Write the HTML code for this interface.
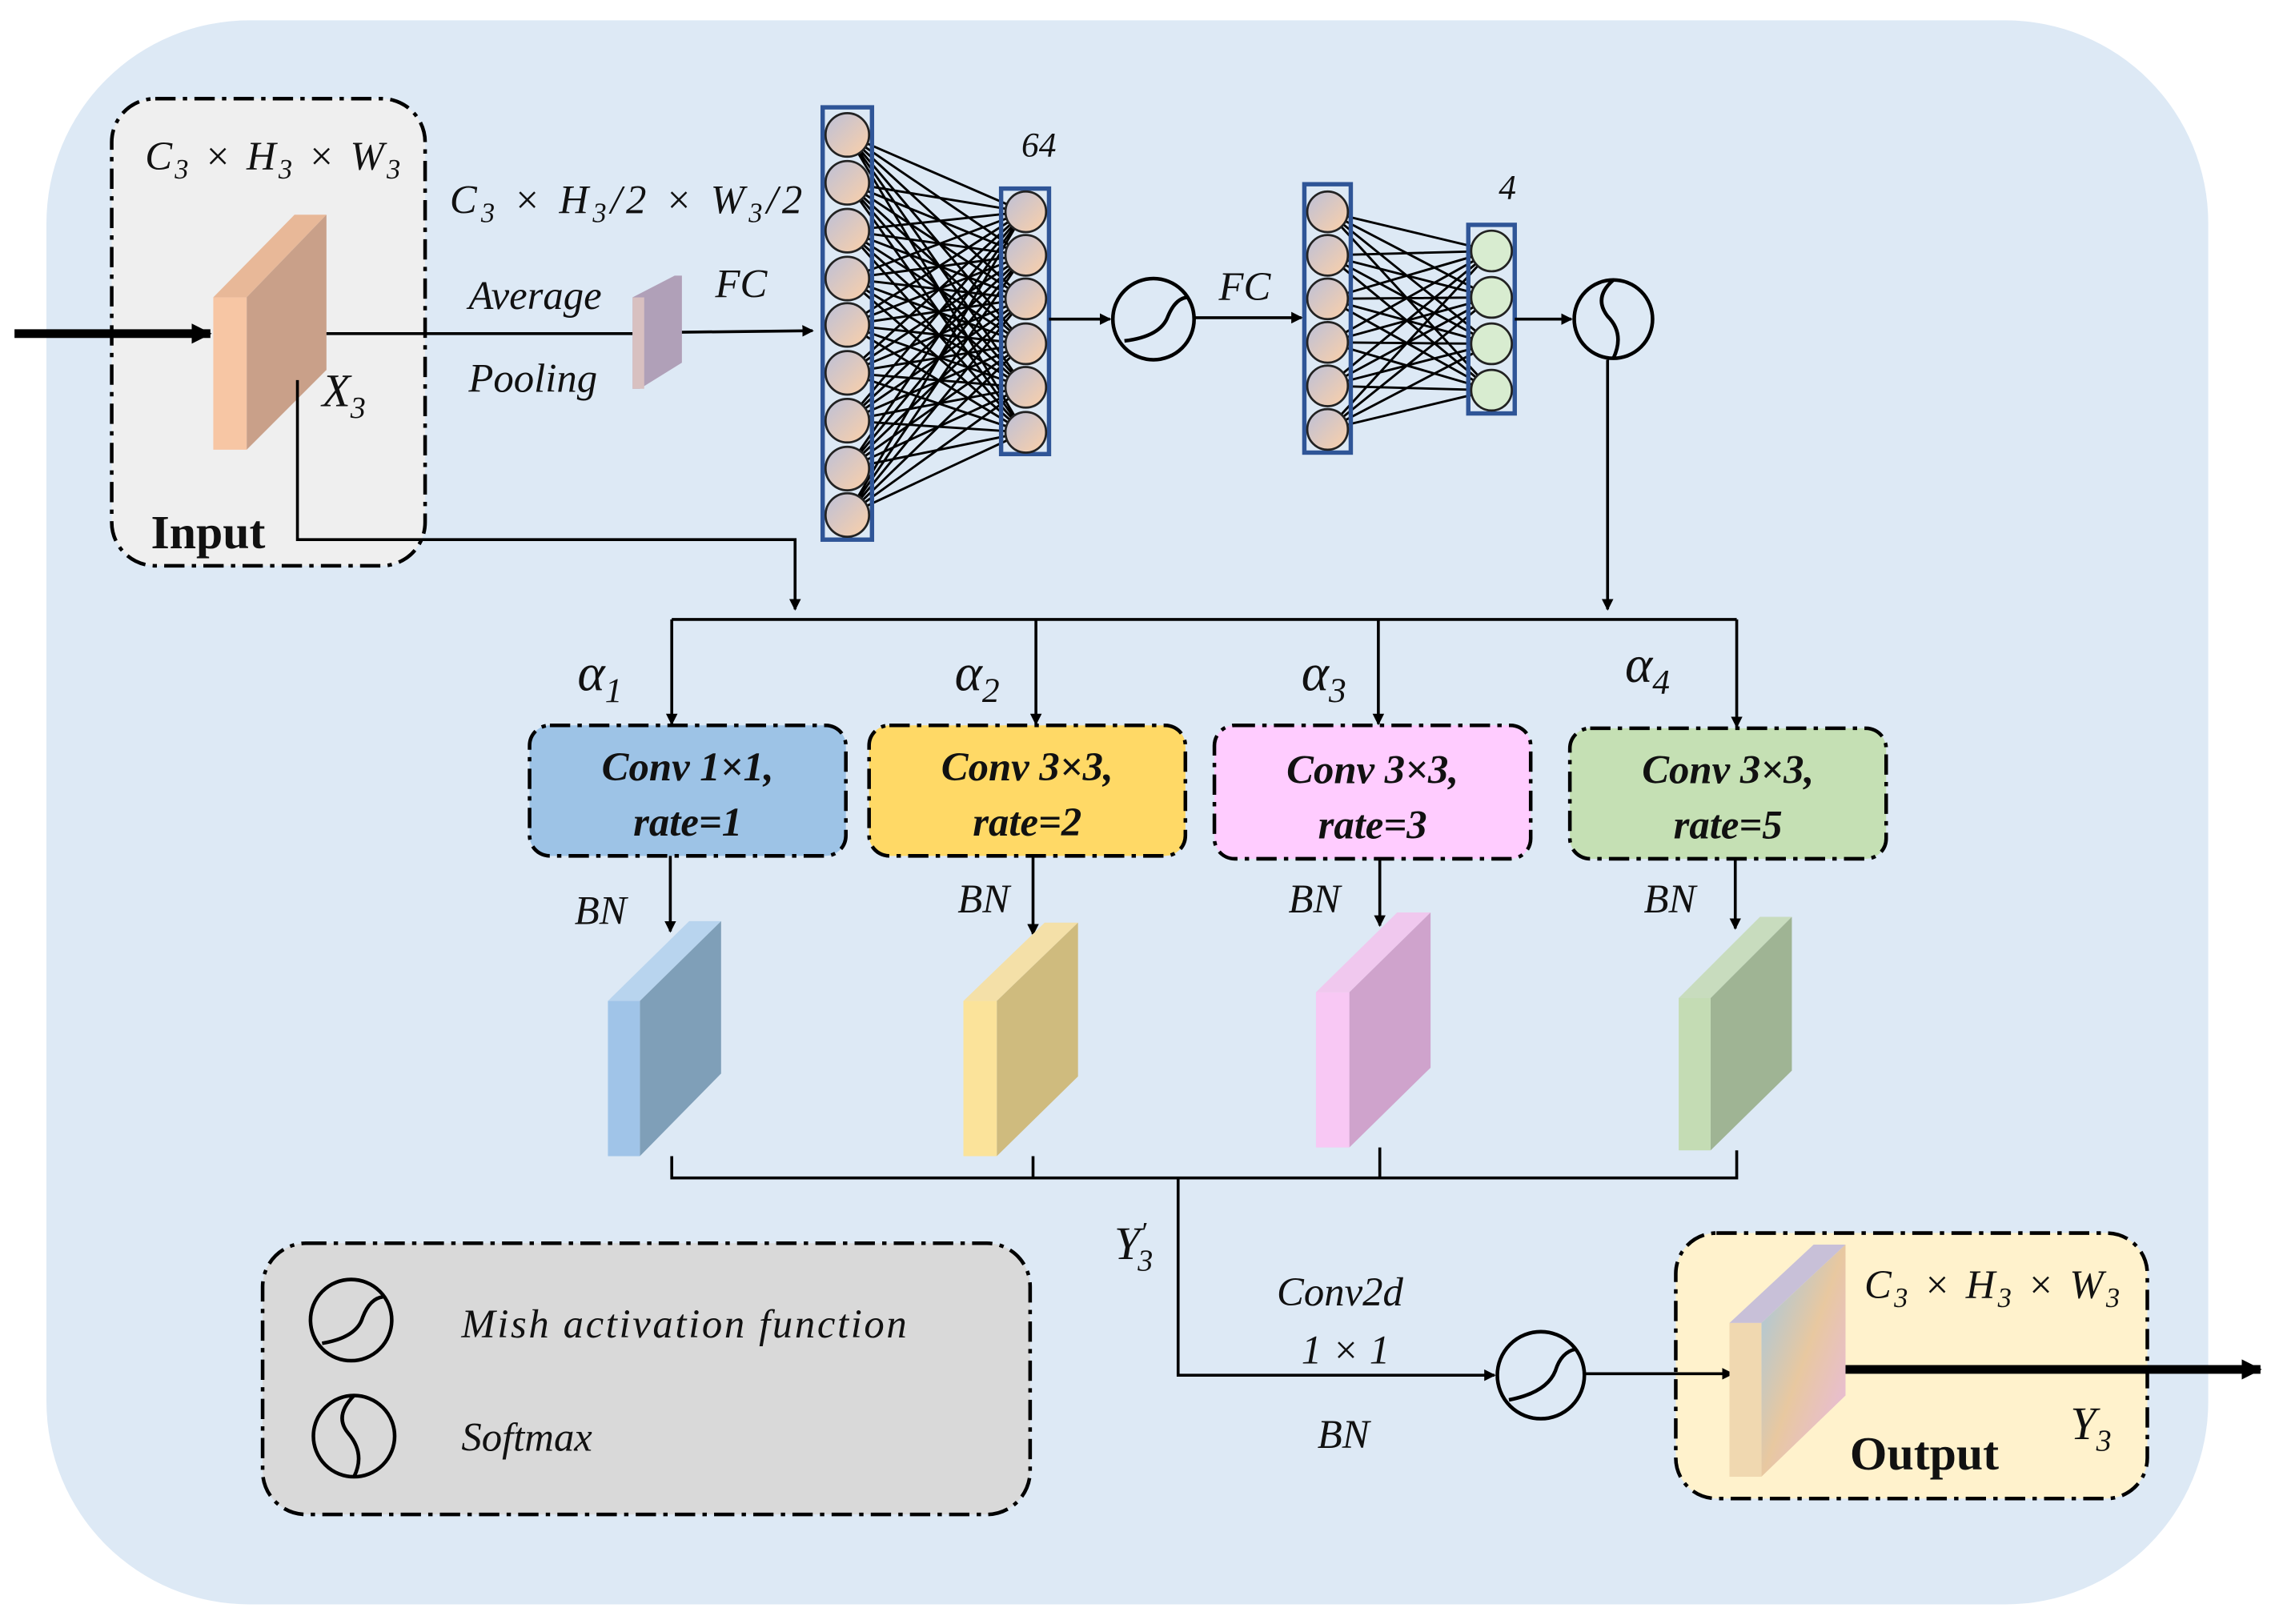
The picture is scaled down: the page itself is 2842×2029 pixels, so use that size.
<!DOCTYPE html>
<html><head><meta charset="utf-8"><style>html,body{margin:0;padding:0;background:#fff}svg{display:block}
text{font-family:"Liberation Serif",serif;font-style:italic;fill:#111}
text.n{font-style:normal}</style></head><body>
<svg width="2842" height="2029" viewBox="0 0 1568 1119.5" preserveAspectRatio="none" xmlns="http://www.w3.org/2000/svg">
<defs>
<marker id="a" markerWidth="8" markerHeight="8" refX="7" refY="4" orient="auto" markerUnits="userSpaceOnUse"><path d="M0,0 L8,4 L0,8z" fill="#000"/></marker>
<marker id="b" markerWidth="14" markerHeight="14" refX="13" refY="7" orient="auto" markerUnits="userSpaceOnUse"><path d="M0,0 L14,7 L0,14z" fill="#000"/></marker>
<linearGradient id="n" x1="0" y1="0" x2="1" y2="1"><stop offset="0" stop-color="#bcc0d8"/><stop offset="1" stop-color="#fcd0a8"/></linearGradient>
<linearGradient id="o" x1="0" y1="0" x2="1" y2="1"><stop offset="0" stop-color="#9cc8e8"/><stop offset="0.5" stop-color="#e8c8a0"/><stop offset="1" stop-color="#e8b8e8"/></linearGradient>
</defs>
<rect x="32" y="14" width="1490" height="1092" rx="140" fill="#dde9f5"/>
<g stroke="#000" stroke-width="2.5" stroke-dasharray="14,5,3,5" fill="none">
<rect x="77" y="68" width="216" height="322" rx="30" fill="#efefef"/>
<rect x="181" y="857" width="529" height="187" rx="30" fill="#d9d9d9"/>
<rect x="1155" y="850" width="325" height="183" rx="28" fill="#fff2cc"/>
<rect x="365" y="500" width="218" height="90" rx="14" fill="#9dc3e6"/>
<rect x="599" y="500" width="218" height="90" rx="14" fill="#ffd966"/>
<rect x="837" y="500" width="218" height="92" rx="14" fill="#ffccff"/>
<rect x="1082" y="502" width="218" height="90" rx="14" fill="#c5e0b4"/>
</g>
<polygon points="147,205 203,148 225,148 170,205" fill="#e8b898"/>
<polygon points="170,205 225,148 225,255 170,310" fill="#c9a089"/>
<rect x="147" y="205" width="23" height="105" fill="#f7c6a4"/>
<line x1="10" y1="230" x2="145" y2="230" stroke="#000" stroke-width="6" marker-end="url(#b)"/>
<line x1="225" y1="230" x2="436" y2="230" stroke="#000" stroke-width="2"/>
<polygon points="436,205 465,190 470,190 470,250 441,268 436,268" fill="#b0a0b8"/>
<rect x="436" y="205" width="8" height="63" fill="#d8c0c0"/>
<line x1="470" y1="229" x2="560" y2="228" stroke="#000" stroke-width="2" marker-end="url(#a)"/>
<polyline points="205,262 205,372 548,372 548,420" fill="none" stroke="#000" stroke-width="2" marker-end="url(#a)"/>
<g stroke="#000" stroke-width="1.6" fill="none">
<path d="M584,93L706,146M584,93L706,176M584,93L706,206M584,93L706,237M584,93L706,267M584,93L706,298M584,126L706,146M584,126L706,176M584,126L706,206M584,126L706,237M584,126L706,267M584,126L706,298M584,159L706,146M584,159L706,176M584,159L706,206M584,159L706,237M584,159L706,267M584,159L706,298M584,192L706,146M584,192L706,176M584,192L706,206M584,192L706,237M584,192L706,267M584,192L706,298M584,224L706,146M584,224L706,176M584,224L706,206M584,224L706,237M584,224L706,267M584,224L706,298M584,257L706,146M584,257L706,176M584,257L706,206M584,257L706,237M584,257L706,267M584,257L706,298M584,290L706,146M584,290L706,176M584,290L706,206M584,290L706,237M584,290L706,267M584,290L706,298M584,323L706,146M584,323L706,176M584,323L706,206M584,323L706,237M584,323L706,267M584,323L706,298M584,355L706,146M584,355L706,176M584,355L706,206M584,355L706,237M584,355L706,267M584,355L706,298"/>
<path d="M915,146L1028,173M915,146L1028,205M915,146L1028,237M915,146L1028,269M915,176L1028,173M915,176L1028,205M915,176L1028,237M915,176L1028,269M915,206L1028,173M915,206L1028,205M915,206L1028,237M915,206L1028,269M915,236L1028,173M915,236L1028,205M915,236L1028,237M915,236L1028,269M915,266L1028,173M915,266L1028,205M915,266L1028,237M915,266L1028,269M915,296L1028,173M915,296L1028,205M915,296L1028,237M915,296L1028,269"/>
</g>
<g stroke="#2f5597" stroke-width="3" fill="none">
<rect x="567" y="74" width="34" height="298"/><rect x="690" y="130" width="33" height="183"/>
<rect x="899" y="127" width="32" height="185"/><rect x="1012" y="155" width="32" height="130"/>
</g>
<g stroke="#222" stroke-width="1.5" fill="url(#n)">
<circle cx="584" cy="93" r="15"/><circle cx="584" cy="126" r="15"/><circle cx="584" cy="159" r="15"/><circle cx="584" cy="192" r="15"/><circle cx="584" cy="224" r="15"/><circle cx="584" cy="257" r="15"/><circle cx="584" cy="290" r="15"/><circle cx="584" cy="323" r="15"/><circle cx="584" cy="355" r="15"/>
<circle cx="707" cy="146" r="14"/><circle cx="707" cy="176" r="14"/><circle cx="707" cy="206" r="14"/><circle cx="707" cy="237" r="14"/><circle cx="707" cy="267" r="14"/><circle cx="707" cy="298" r="14"/>
<circle cx="915" cy="146" r="14"/><circle cx="915" cy="176" r="14"/><circle cx="915" cy="206" r="14"/><circle cx="915" cy="236" r="14"/><circle cx="915" cy="266" r="14"/><circle cx="915" cy="296" r="14"/>
</g>
<g stroke="#222" stroke-width="1.5" fill="#d8ecd0">
<circle cx="1028" cy="173" r="14"/><circle cx="1028" cy="205" r="14"/><circle cx="1028" cy="237" r="14"/><circle cx="1028" cy="269" r="14"/>
</g>
<line x1="723" y1="220" x2="765" y2="220" stroke="#000" stroke-width="2" marker-end="url(#a)"/>
<line x1="823" y1="219" x2="897" y2="219" stroke="#000" stroke-width="2" marker-end="url(#a)"/>
<line x1="1044" y1="220" x2="1083" y2="220" stroke="#000" stroke-width="2" marker-end="url(#a)"/>
<g stroke="#000" stroke-width="2.5" fill="none">
<circle cx="795" cy="220" r="28"/><path d="M775,235 Q800,232 805,218 Q810,206 818,205"/>
<circle cx="1112" cy="220" r="27"/><path d="M1112,193 Q1098,205 1108,218 Q1120,230 1112,247"/>
<circle cx="1062" cy="948" r="30"/><path d="M1040,965 Q1066,960 1072,945 Q1076,932 1086,930"/>
<circle cx="242" cy="910" r="28"/><path d="M222,926 Q246,922 250,908 Q255,895 264,894"/>
<circle cx="244" cy="990" r="28"/><path d="M244,962 Q230,976 240,988 Q252,1002 244,1018"/>
</g>
<line x1="1108" y1="248" x2="1108" y2="420" stroke="#000" stroke-width="2" marker-end="url(#a)"/>
<line x1="463" y1="427" x2="1197" y2="427" stroke="#000" stroke-width="2"/>
<g stroke="#000" stroke-width="2" marker-end="url(#a)">
<line x1="463" y1="427" x2="463" y2="499"/><line x1="714" y1="427" x2="714" y2="499"/><line x1="950" y1="427" x2="950" y2="499"/><line x1="1197" y1="427" x2="1197" y2="501"/>
<line x1="462" y1="590" x2="462" y2="642"/><line x1="712" y1="590" x2="712" y2="644"/><line x1="951" y1="592" x2="951" y2="638"/><line x1="1196" y1="592" x2="1196" y2="640"/>
</g>
<polygon points="419,690 475,635 497,635 441,690" fill="#b8d4ee"/><polygon points="441,690 497,635 497,740 441,797" fill="#7f9fb8"/><rect x="419" y="690" width="22" height="107" fill="#a0c4e8"/>
<polygon points="664,690 720,636 743,636 687,690" fill="#f4e0a8"/><polygon points="687,690 743,636 743,742 687,797" fill="#cfbb7e"/><rect x="664" y="690" width="23" height="107" fill="#fbe39a"/>
<polygon points="907,684 963,629 986,629 930,684" fill="#f0c8ee"/><polygon points="930,684 986,629 986,736 930,791" fill="#cfa3cc"/><rect x="907" y="684" width="23" height="107" fill="#f8c8f4"/>
<polygon points="1157,688 1213,632 1235,632 1179,688" fill="#c8dcbe"/><polygon points="1179,688 1235,632 1235,738 1179,793" fill="#9fb494"/><rect x="1157" y="688" width="22" height="105" fill="#c4dcb4"/>
<polyline points="463,797 463,812 1197,812 1197,793" fill="none" stroke="#000" stroke-width="2"/>
<line x1="712" y1="797" x2="712" y2="812" stroke="#000" stroke-width="2"/>
<line x1="951" y1="791" x2="951" y2="812" stroke="#000" stroke-width="2"/>
<polyline points="812,812 812,948 1030,948" fill="none" stroke="#000" stroke-width="2" marker-end="url(#a)"/>
<line x1="1092" y1="947" x2="1194" y2="947" stroke="#000" stroke-width="2" marker-end="url(#a)"/>
<polygon points="1192,912 1250,858 1272,858 1214,912" fill="#c8c0d8"/>
<polygon points="1214,912 1272,858 1272,962 1214,1018" fill="url(#o)"/>
<rect x="1192" y="912" width="22" height="106" fill="#f0d8b0"/>
<line x1="1272" y1="944" x2="1558" y2="944" stroke="#000" stroke-width="6" marker-end="url(#b)"/>
<g font-size="28">
<text x="100" y="117" textLength="176">C<tspan font-size="19" dy="6">3</tspan><tspan dy="-6"> × H</tspan><tspan font-size="19" dy="6">3</tspan><tspan dy="-6"> × W</tspan><tspan font-size="19" dy="6">3</tspan></text>
<text x="310" y="147" textLength="243">C<tspan font-size="19" dy="6">3</tspan><tspan dy="-6"> × H</tspan><tspan font-size="19" dy="6">3</tspan><tspan dy="-6">/2 × W</tspan><tspan font-size="19" dy="6">3</tspan><tspan dy="-6">/2</tspan></text>
<text x="323" y="213">Average</text><text x="323" y="270">Pooling</text>
<text x="493" y="205">FC</text><text x="840" y="207">FC</text>
<text x="222" y="280" font-size="32">X<tspan font-size="21" dy="8">3</tspan></text>
<text x="1285" y="895" textLength="176">C<tspan font-size="19" dy="6">3</tspan><tspan dy="-6"> × H</tspan><tspan font-size="19" dy="6">3</tspan><tspan dy="-6"> × W</tspan><tspan font-size="19" dy="6">3</tspan></text>
<text x="1427" y="992" font-size="32">Y<tspan font-size="21" dy="8">3</tspan></text>
<text x="768" y="868" font-size="32">Y<tspan font-size="20" dy="-12">′</tspan><tspan font-size="21" dx="-6" dy="20">3</tspan></text>
<text x="880" y="900">Conv2d</text><text x="897" y="940">1 × 1</text><text x="908" y="998">BN</text>
<text x="396" y="637">BN</text><text x="660" y="629">BN</text><text x="888" y="629">BN</text><text x="1133" y="629">BN</text>
<text x="318" y="922" textLength="307">Mish activation function</text><text x="318" y="1000">Softmax</text>
</g>
<text x="704" y="108" font-size="24">64</text><text x="1033" y="137" font-size="24">4</text>
<g font-size="36"><text x="398" y="476">α<tspan font-size="24" dy="8">1</tspan></text><text x="658" y="476">α<tspan font-size="24" dy="8">2</tspan></text><text x="897" y="476">α<tspan font-size="24" dy="8">3</tspan></text><text x="1120" y="470">α<tspan font-size="24" dy="8">4</tspan></text></g>
<g font-size="28" font-weight="bold" text-anchor="middle">
<text x="474" y="538">Conv  1×1,</text><text x="474" y="576">rate=1</text>
<text x="708" y="538">Conv  3×3,</text><text x="708" y="576">rate=2</text>
<text x="946" y="540">Conv  3×3,</text><text x="946" y="578">rate=3</text>
<text x="1191" y="540">Conv  3×3,</text><text x="1191" y="578">rate=5</text>
</g>
<text class="n" x="104" y="378" font-size="33" font-weight="bold">Input</text>
<text class="n" x="1275" y="1013" font-size="33" font-weight="bold">Output</text>
</svg>
</body></html>
